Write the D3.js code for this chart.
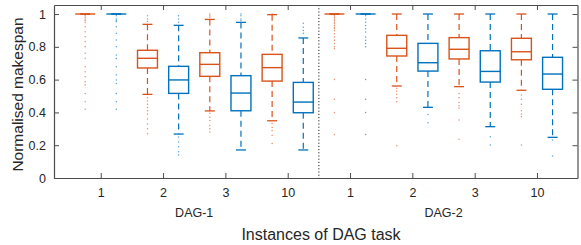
<!DOCTYPE html>
<html><head><meta charset="utf-8">
<script src="https://cdn.jsdelivr.net/npm/d3@7"></script>
<style>body{margin:0;background:#fff}text{font-family:"Liberation Sans",Arial,sans-serif;fill:#262626}</style>
</head><body><svg id="c" width="581" height="245"></svg>
<script>
const groups = ["DAG-1", "DAG-2"];
const instances = ["1", "2", "3", "10"];
const yTicks = [0, 0.2, 0.4, 0.6, 0.8, 1];
const yTickLabels = ["0", "0.2", "0.4", "0.6", "0.8", "1"];

// orange series (per group x instance): whisker low, q1, median, q3, whisker high
const orangeLo  = [1, 0.510, 0.409, 0.349, 1, 0.561, 0.557, 0.535];
const orangeQ1  = [1, 0.671, 0.620, 0.591, 1, 0.744, 0.726, 0.721];
const orangeMed = [1, 0.730, 0.693, 0.673, 1, 0.791, 0.785, 0.770];
const orangeQ3  = [1, 0.779, 0.764, 0.754, 1, 0.870, 0.856, 0.852];
const orangeHi  = [1, 0.937, 0.967, 0.996, 1, 1, 1, 1];
const orangeOut = [
  [0.99,0.98,0.97,0.96,0.95,0.923,0.892,0.862,0.831,0.801,0.76,0.73,0.679,0.648,0.618,0.587,0.567,0.516,0.465,0.419],
  [0.99,0.97,0.955,0.49,0.47,0.45,0.43,0.41,0.39,0.36,0.33,0.30,0.27],
  [1.0,0.99,0.98,0.395,0.37,0.35,0.32,0.30,0.28],
  [1.0,0.333,0.31,0.29,0.26,0.21],
  [0.99,0.98,0.97,0.96,0.95,0.94,0.93,0.92,0.91,0.9,0.88,0.86,0.84,0.82,0.8,0.79,0.6,0.48,0.40,0.266],
  [0.547,0.53,0.51,0.49,0.465,0.197],
  [0.516,0.49,0.46,0.44,0.425,0.354,0.236],
  [0.506,0.48,0.45,0.41,0.39,0.374,0.201]
];
// blue series
const blueLo  = [1, 0.268, 0.171, 0.171, 1, 0.431, 0.313, 0.248];
const blueQ1  = [1, 0.516, 0.410, 0.398, 1, 0.652, 0.585, 0.541];
const blueMed = [1, 0.598, 0.518, 0.463, 1, 0.703, 0.650, 0.634];
const blueQ3  = [1, 0.681, 0.624, 0.583, 1, 0.821, 0.776, 0.736];
const blueHi  = [1, 0.931, 0.949, 0.854, 1, 1, 1, 1];
const blueOut = [
  [0.99,0.97,0.96,0.953,0.923,0.882,0.841,0.801,0.75,0.729,0.679,0.628,0.597,0.577,0.516,0.465,0.419],
  [0.99,0.97,0.95,0.25,0.22,0.19,0.16,0.14],
  [1.0,0.99,0.97,0.96],
  [0.943,0.92,0.90,0.882],
  [0.99,0.97,0.95,0.93,0.91,0.89,0.86,0.84,0.82,0.80,0.6,0.48,0.40,0.266],
  [0.388,0.337],
  [0.252,0.201],
  [0.232,0.134]
];

const W = 581, H = 245;
const m = {l: 54, r: 3.5, t: 5, b: 67};
const svg = d3.select("#c");
const x = d3.scaleLinear().domain([-1, 15.8]).range([m.l, W - m.r]);
const y = d3.scaleLinear().domain([0, 1.055]).range([H - m.b, m.t]);
const ORANGE = "#D95319", BLUE = "#0072BD";

const centers = d3.range(8).map(i => 2 * i + 0.5);
const tickLabels = groups.flatMap(() => instances);

const series = [
  {c: ORANGE, off: -0.5, lo: orangeLo, q1: orangeQ1, med: orangeMed, q3: orangeQ3, hi: orangeHi, out: orangeOut},
  {c: BLUE, off: 0.5, lo: blueLo, q1: blueQ1, med: blueMed, q3: blueQ3, hi: blueHi, out: blueOut}
];

const boxW = x(0.64) - x(0);
const capW = boxW / 2;
const g = svg.append("g");
series.forEach(s => {
  centers.forEach((cp, i) => {
    const cx = x(cp + s.off);
    g.selectAll(null).data(s.out[i]).enter().append("circle")
      .attr("cx", cx).attr("cy", d => y(d)).attr("r", 0.75)
      .attr("fill", s.c).attr("opacity", 0.65);
    g.append("line").attr("x1", cx).attr("x2", cx).attr("y1", y(s.hi[i])).attr("y2", y(s.q3[i]))
      .attr("stroke", s.c).attr("stroke-width", 1.2).attr("stroke-dasharray", "6,4");
    g.append("line").attr("x1", cx).attr("x2", cx).attr("y1", y(s.q1[i])).attr("y2", y(s.lo[i]))
      .attr("stroke", s.c).attr("stroke-width", 1.2).attr("stroke-dasharray", "6,4");
    [s.hi[i], s.lo[i]].forEach(v => g.append("line").attr("x1", cx - capW / 2).attr("x2", cx + capW / 2)
      .attr("y1", y(v)).attr("y2", y(v)).attr("stroke", s.c).attr("stroke-width", 1.3));
    g.append("rect").attr("x", cx - boxW / 2).attr("width", boxW)
      .attr("y", y(s.q3[i])).attr("height", Math.max(0, y(s.q1[i]) - y(s.q3[i])))
      .attr("fill", "none").attr("stroke", s.c).attr("stroke-width", 1.4);
    g.append("line").attr("x1", cx - boxW / 2).attr("x2", cx + boxW / 2)
      .attr("y1", y(s.med[i])).attr("y2", y(s.med[i])).attr("stroke", s.c).attr("stroke-width", 1.4);
  });
});

svg.append("line").attr("x1", x(7.5)).attr("x2", x(7.5)).attr("y1", y.range()[1]).attr("y2", y.range()[0])
  .attr("stroke", "#262626").attr("stroke-width", 1).attr("stroke-dasharray", "1.2,2");

const AX = "#4d4d4d";
function style(sel) {
  sel.selectAll(".domain").attr("stroke", AX).attr("stroke-width", 1.2);
  sel.selectAll(".tick line").attr("stroke", AX);
  sel.selectAll("text").attr("fill", "#262626").style("font-family", '"Liberation Sans",Arial,sans-serif').style("font-size", "12.5px");
}
const xb = svg.append("g").attr("transform", `translate(0,${H - m.b})`)
  .call(d3.axisBottom(x).tickValues(centers).tickFormat((d, i) => tickLabels[i]).tickSizeInner(-5).tickSizeOuter(0).tickPadding(10));
style(xb);
const xt = svg.append("g").attr("transform", `translate(0,${m.t})`)
  .call(d3.axisTop(x).tickValues(centers).tickFormat("").tickSizeInner(-5).tickSizeOuter(0));
style(xt);
const yl = svg.append("g").attr("transform", `translate(${m.l},0)`)
  .call(d3.axisLeft(y).tickValues(yTicks).tickFormat((d, i) => yTickLabels[i]).tickSizeInner(-5).tickSizeOuter(0).tickPadding(8));
style(yl);
const yr = svg.append("g").attr("transform", `translate(${W - m.r},0)`)
  .call(d3.axisRight(y).tickValues(yTicks).tickFormat("").tickSizeInner(-5).tickSizeOuter(0));
style(yr);

groups.forEach((gname, k) => {
  svg.append("text").attr("x", (x(centers[4 * k]) + x(centers[4 * k + 3])) / 2).attr("y", 217)
    .attr("text-anchor", "middle").style("font-size", "12.5px").text(gname);
});
svg.append("text").attr("x", 321).attr("y", 240).attr("text-anchor", "middle")
  .style("font-size", "16px").text("Instances of DAG task");
svg.append("text").attr("transform", `translate(23,${(y(0) + y(1.055)) / 2 + 3}) rotate(-90)`)
  .attr("text-anchor", "middle").style("font-size", "15.5px").text("Normalised makespan");
</script></body></html>
